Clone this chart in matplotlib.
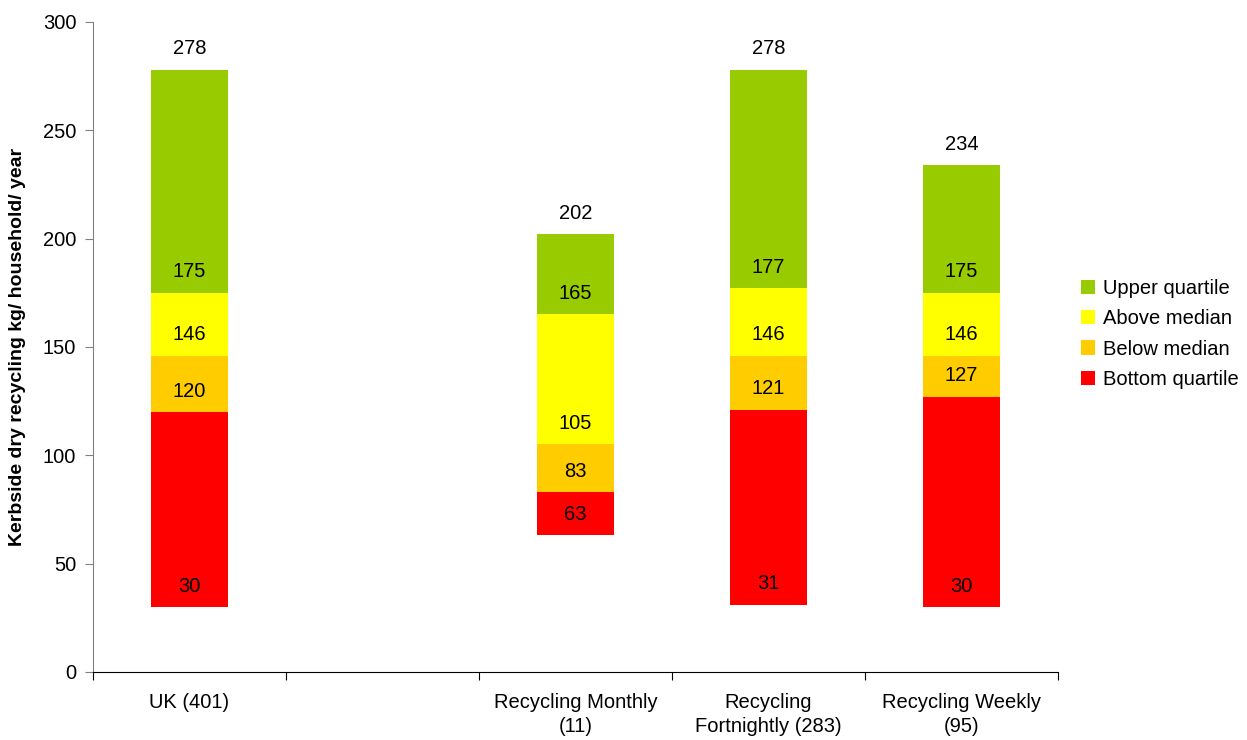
import matplotlib.pyplot as plt
import numpy as np

plt.rcParams['font.family'] = ['Liberation Sans', 'DejaVu Sans']

# quartile data per collection scheme (kg/household/year)
categories = ["UK (401)", "", "Recycling Monthly\n(11)",
              "Recycling\nFortnightly (283)", "Recycling Weekly\n(95)"]
minimum = [30, np.nan, 63, 31, 30]
lower_q = [120, np.nan, 83, 121, 127]
median = [146, np.nan, 105, 146, 146]
upper_q = [175, np.nan, 165, 177, 175]
maximum = [278, np.nan, 202, 278, 234]

series_names = ["Bottom quartile", "Below median", "Above median", "Upper quartile"]
colours = ["#FF0000", "#FFCC00", "#FFFF00", "#99CC00"]

fig = plt.figure(figsize=(12.47, 7.4), dpi=100)
ax = fig.add_axes([0.0746, 0.0919, 0.7739, 0.8784])

x = np.arange(len(categories))
edges = [minimum, lower_q, median, upper_q, maximum]
handles = []
for i in range(4):
    lo = np.array(edges[i], dtype=float)
    hi = np.array(edges[i + 1], dtype=float)
    b = ax.bar(x, hi - lo, bottom=lo, width=0.4, color=colours[i],
               label=series_names[i], linewidth=0)
    handles.append(b)

# value labels sit a little above the value they name
for vals in edges:
    for xi, v in zip(x, vals):
        if np.isnan(v):
            continue
        ax.annotate("%d" % v, (xi, v), xytext=(0, 15), textcoords="offset points",
                    ha="center", va="center", fontsize=14.5, color="black")

ax.set_xlim(-0.5, len(categories) - 0.5)
ax.set_ylim(0, 300)
ax.set_yticks(np.arange(0, 301, 50))
ax.set_xticks(np.arange(-0.5, len(categories), 1.0))
ax.set_xticklabels([])
ax.set_xticks(x, minor=True)
ax.set_xticklabels(categories, minor=True, fontsize=14.5, linespacing=1.35)
ax.tick_params(axis="x", which="major", length=6, direction="out", color="black")
ax.tick_params(axis="x", which="minor", length=0, pad=15)
ax.tick_params(axis="y", length=6, direction="out", color="#808080", labelsize=14.5, pad=6)

for s in ["top", "right"]:
    ax.spines[s].set_visible(False)
ax.spines["left"].set_color("#808080")
ax.spines["bottom"].set_color("black")

ax.set_ylabel("Kerbside dry recycling kg/ household/ year", fontsize=14,
              fontweight="bold", labelpad=12)

ax.legend(handles[::-1], series_names[::-1], loc="center left",
          bbox_to_anchor=(1.005, 0.52), frameon=False, fontsize=14.5,
          handlelength=0.7, handleheight=0.7, handletextpad=0.4,
          labelspacing=0.55)

fig.savefig("out.png", dpi=100)
